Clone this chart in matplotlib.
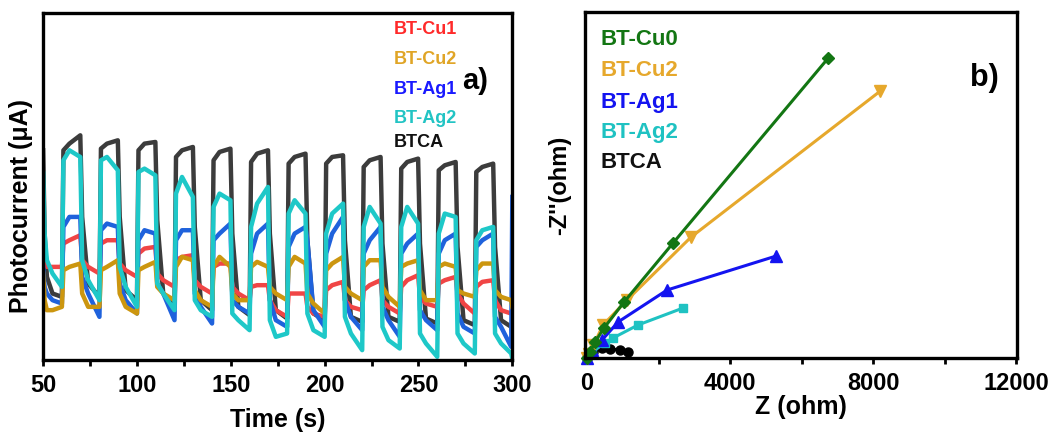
import matplotlib
matplotlib.use("Agg")
import matplotlib.pyplot as plt

plt.rcParams['font.family'] = ['Liberation Sans', 'DejaVu Sans']
plt.rcParams['font.weight'] = 'bold'

# ---------------- Panel a: photocurrent transients ----------------
time_s = [50, 50.8, 52, 55,
          60, 60.8, 64, 69.8, 70.8, 74,
          80, 80.8, 84, 89.8, 90.8, 94,
          100, 100.8, 104, 109.8, 110.8, 114,
          120, 120.8, 124, 129.8, 130.8, 134,
          140, 140.8, 144, 149.8, 150.8, 154,
          160, 160.8, 164, 169.8, 170.8, 174,
          180, 180.8, 184, 189.8, 190.8, 194,
          200, 200.8, 204, 209.8, 210.8, 214,
          220, 220.8, 224, 229.8, 230.8, 234,
          240, 240.8, 244, 249.8, 250.8, 254,
          260, 260.8, 264, 269.8, 270.8, 274,
          280, 280.8, 284, 289.8, 290.8, 294,
          299.4, 300]

btca = [6.30, 3.80, 2.50, 2.00,
        1.90, 6.30, 6.50, 6.75, 4.30, 2.30,
        1.90, 6.35, 6.50, 6.60, 4.30, 2.10,
        1.80, 6.30, 6.50, 6.55, 4.20, 2.00,
        1.70, 6.10, 6.30, 6.40, 4.00, 1.80,
        1.50, 6.00, 6.25, 6.35, 3.80, 1.60,
        1.35, 5.95, 6.20, 6.30, 3.80, 1.50,
        1.25, 5.90, 6.10, 6.20, 3.60, 1.40,
        1.20, 5.90, 6.10, 6.15, 3.60, 1.30,
        1.15, 5.80, 6.00, 6.10, 3.50, 1.30,
        1.15, 5.75, 5.95, 6.05, 3.50, 1.25,
        1.10, 5.70, 5.85, 5.95, 3.40, 1.20,
        1.05, 5.65, 5.80, 5.90, 3.40, 1.20,
        1.00, 0.80]

bt_cu1 = [3.50, 3.00, 2.80, 2.80,
          2.80, 3.50, 3.60, 3.75, 3.00, 2.80,
          2.60, 3.50, 3.60, 3.60, 2.90, 2.70,
          2.50, 3.20, 3.35, 3.40, 2.60, 2.40,
          2.20, 3.00, 3.10, 3.15, 2.40, 2.20,
          2.00, 2.80, 2.90, 2.90, 2.20, 2.00,
          1.80, 2.20, 2.25, 2.25, 1.80, 1.50,
          1.30, 2.00, 2.00, 2.00, 1.60, 1.40,
          1.30, 2.10, 2.25, 2.35, 1.80, 1.60,
          1.50, 2.10, 2.25, 2.40, 1.80, 1.60,
          1.40, 2.20, 2.40, 2.55, 1.90, 1.70,
          1.60, 2.30, 2.40, 2.50, 2.00, 1.70,
          1.40, 2.20, 2.35, 2.40, 1.80, 1.50,
          1.40, 1.40]

bt_cu2 = [2.60, 1.80, 1.50, 1.50,
          1.60, 2.70, 2.80, 2.90, 2.00, 1.60,
          1.60, 2.70, 2.80, 3.00, 2.00, 1.60,
          1.40, 2.70, 2.80, 2.95, 2.20, 2.00,
          1.80, 2.80, 3.10, 3.00, 2.10, 1.80,
          1.60, 2.80, 3.10, 2.80, 2.00, 1.80,
          1.80, 2.80, 2.95, 2.80, 2.20, 2.00,
          1.80, 2.80, 3.10, 2.90, 2.00, 1.70,
          1.40, 2.70, 2.90, 3.10, 2.20, 2.00,
          1.80, 2.80, 3.00, 3.00, 2.20, 1.90,
          1.60, 2.80, 2.90, 3.00, 2.10, 1.80,
          1.80, 2.80, 2.90, 2.80, 2.10, 2.00,
          1.90, 2.70, 2.90, 2.90, 2.10, 1.90,
          1.80, 1.60]

bt_ag1 = [2.80, 2.20, 2.00, 1.80,
          1.70, 4.00, 4.30, 4.30, 2.50, 2.00,
          1.30, 3.90, 4.10, 4.00, 2.30, 1.80,
          1.40, 3.60, 3.90, 3.80, 2.30, 2.00,
          1.20, 3.60, 3.90, 3.90, 2.00, 1.60,
          1.10, 3.60, 3.80, 4.10, 1.80, 1.60,
          1.40, 3.20, 3.80, 4.10, 1.80, 1.20,
          1.00, 3.40, 3.80, 4.00, 3.60, 1.50,
          1.00, 3.20, 3.80, 4.30, 1.80, 1.30,
          0.90, 3.20, 3.60, 4.00, 1.60, 1.20,
          0.70, 3.20, 3.50, 3.80, 1.50, 1.20,
          0.90, 3.20, 3.60, 3.80, 1.40, 1.00,
          0.80, 3.40, 3.60, 3.80, 1.30, 1.00,
          0.40, 4.90]

bt_ag2 = [5.60, 3.80, 3.00, 2.60,
          2.20, 6.00, 6.30, 6.10, 3.00, 2.40,
          1.80, 6.00, 6.10, 5.70, 2.80, 2.20,
          1.60, 5.65, 5.75, 5.55, 2.30, 2.00,
          1.50, 5.00, 5.50, 4.90, 1.80, 1.50,
          1.30, 4.60, 5.00, 4.80, 1.40, 1.20,
          0.90, 4.00, 4.70, 5.20, 1.20, 0.70,
          0.80, 4.40, 4.80, 4.40, 1.40, 0.90,
          0.70, 3.80, 4.40, 4.70, 1.30, 0.80,
          0.30, 4.00, 4.60, 4.10, 1.00, 0.60,
          0.35, 4.00, 4.60, 4.10, 0.80, 0.50,
          0.10, 3.80, 4.40, 4.30, 0.80, 0.50,
          0.20, 3.60, 3.90, 4.00, 0.80, 0.50,
          0.20, 0.05]

legend_a = ["BT-Cu1", "BT-Cu2", "BT-Ag1", "BT-Ag2", "BTCA"]
time_ticks = [50, 100, 150, 200, 250, 300]

# ---------------- Panel b: Nyquist plot ----------------
cu0_z = [0, 84, 224, 475, 1035, 2405, 6741]
cu0_zz = [0, 173, 462, 867, 1618, 3324, 8670]
cu2_z = [0, 60, 180, 447, 1119, 2909, 8195]
cu2_zz = [0, 120, 370, 954, 1676, 3497, 7716]
ag1_z = [0, 140, 420, 867, 2238, 5287]
ag1_zz = [0, 231, 520, 1040, 1965, 2948]
ag2_z = [0, 140, 503, 727, 1426, 2685]
ag2_zz = [0, 173, 433, 578, 954, 1445]
btca_z = [0, 170, 420, 640, 920, 1150]
btca_zz = [0, 170, 290, 260, 230, 170]
legend_b = ["BT-Cu0", "BT-Cu2", "BT-Ag1", "BT-Ag2", "BTCA"]
z_ticks = [0, 4000, 8000, 12000]

fig = plt.figure(figsize=(10.52, 4.36), dpi=100)
axa = fig.add_axes([0.041, 0.174, 0.446, 0.796])
axb = fig.add_axes([0.556, 0.179, 0.411, 0.793])

c_black = '#3c3c3c'
c_red = '#f04545'
c_gold = '#cc960f'
c_blue = '#1f62dc'
c_cyan = '#1ec8c8'
lw = 3.2
axa.plot(time_s, btca, color=c_black, lw=lw)
axa.plot(time_s, bt_cu1, color=c_red, lw=lw)
axa.plot(time_s, bt_ag1, color=c_blue, lw=lw)
axa.plot(time_s, bt_cu2, color=c_gold, lw=lw)
axa.plot(time_s, bt_ag2, color=c_cyan, lw=lw)
axa.set_xlim(50, 300)
axa.set_ylim(0, 10.42)
axa.set_xticks(time_ticks)
axa.set_xticks([75, 125, 175, 225, 275], minor=True)
axa.set_yticks([])
axa.tick_params(axis='x', which='both', direction='out', length=4, width=2, labelsize=17, pad=6)
axa.set_xlabel("Time (s)", fontsize=18, fontweight='bold', labelpad=8)
axa.set_ylabel("Photocurrent (μA)", fontsize=18, fontweight='bold')
axa.yaxis.set_label_coords(-0.021, 0.444)
for sp in axa.spines.values():
    sp.set_linewidth(2.4)

leg_a_cols = ['#ff2a2a', '#e0a526', '#1a1aff', '#22c4c4', '#111111']
leg_a_y = [0.952, 0.866, 0.781, 0.697, 0.628]
for txt, col, yy in zip(legend_a, leg_a_cols, leg_a_y):
    axa.text(0.748, yy, txt, color=col, fontsize=13, fontweight='bold',
             transform=axa.transAxes, va='center', ha='left')
axa.text(0.893, 0.805, "a)", fontsize=21, fontweight='bold', transform=axa.transAxes,
         va='center', ha='left')

# Panel b
ms_lw = 2.2
axb.plot(btca_z, btca_zz, color='black', lw=ms_lw, marker='o', ms=6.5, clip_on=False)
axb.plot(ag2_z, ag2_zz, color='#1fc2c2', lw=ms_lw, marker='s', ms=6, clip_on=False)
axb.plot(ag1_z, ag1_zz, color='#1414f0', lw=ms_lw, marker='^', ms=8, clip_on=False)
axb.plot(cu2_z, cu2_zz, color='#e6a82c', lw=ms_lw, marker='v', ms=8, clip_on=False)
axb.plot(cu0_z, cu0_zz, color='#137613', lw=ms_lw, marker='D', ms=6.5, clip_on=False)
axb.set_xlim(-60, 12030)
axb.set_ylim(0, 10000)
axb.set_xticks(z_ticks)
axb.set_xticks([2000, 6000, 10000], minor=True)
axb.set_yticks([])
axb.tick_params(axis='x', which='both', direction='out', length=4, width=2, labelsize=17, pad=6)
axb.set_xlabel("Z (ohm)", fontsize=18, fontweight='bold', labelpad=0)
axb.set_ylabel("-Z''(ohm)", fontsize=17, fontweight='bold', labelpad=10)
for sp in axb.spines.values():
    sp.set_linewidth(2.4)

leg_b_cols = ['#137613', '#e6a82c', '#1414f0', '#1fc2c2', '#111111']
leg_b_y = [0.92, 0.83, 0.74, 0.652, 0.565]
for txt, col, yy in zip(legend_b, leg_b_cols, leg_b_y):
    axb.text(0.037, yy, txt, color=col, fontsize=16, fontweight='bold',
             transform=axb.transAxes, va='center', ha='left')
axb.text(0.89, 0.81, "b)", fontsize=22, fontweight='bold', transform=axb.transAxes,
         va='center', ha='left')

fig.savefig("out.png", dpi=100)
